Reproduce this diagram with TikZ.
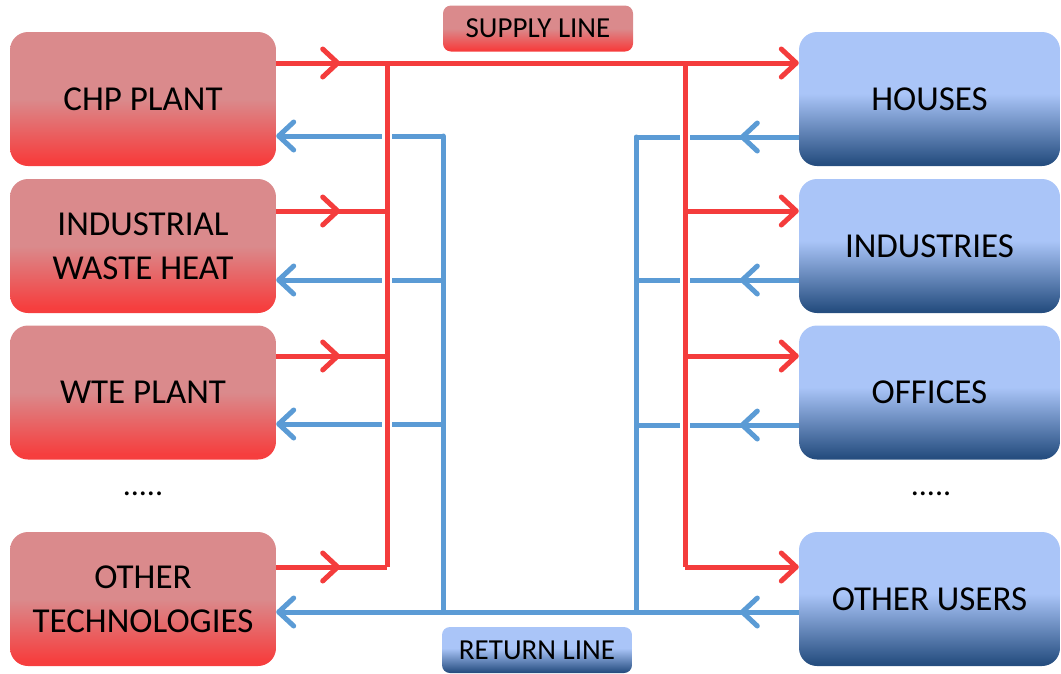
\documentclass[tikz,border=0pt]{standalone}
\usepackage{fontspec}
\setmainfont{Carlito}
\usetikzlibrary{arrows.meta}

\definecolor{redtop}{RGB}{218,138,140}
\definecolor{redbot}{RGB}{246,62,62}
\definecolor{bluetop}{RGB}{170,197,248}
\definecolor{bluebot}{RGB}{38,78,128}
\definecolor{supplyred}{RGB}{244,60,60}
\definecolor{returnblue}{RGB}{91,155,213}

% vertical fills: the node occupies 25bp (bottom) to 75bp (top)
\pgfdeclareverticalshading{redfill}{100bp}{color(0bp)=(redbot); color(27bp)=(redbot); color(50bp)=(redtop); color(100bp)=(redtop)}
\pgfdeclareverticalshading{bluefill}{100bp}{color(0bp)=(bluebot); color(26bp)=(bluebot); color(52bp)=(bluetop); color(100bp)=(bluetop)}

\tikzset{
  source/.style={shading=redfill, rounded corners=18pt, minimum width=266pt, minimum height=134pt,
    align=center, font=\fontsize{35}{44}\selectfont, inner sep=0pt},
  user/.style={shading=bluefill, rounded corners=18pt, minimum width=261pt, minimum height=134pt,
    align=center, font=\fontsize{35}{44}\selectfont, inner sep=0pt},
  tag/.style={rounded corners=8pt, minimum width=190pt, minimum height=46pt, inner sep=0pt,
    font=\fontsize{29}{32}\selectfont},
  barb/.tip={Straight Barb[length=15pt,width=28pt,round]},
  sup/.style={draw=supplyred, line width=5pt},
  ret/.style={draw=returnblue, line width=5pt},
  gapped/.style={preaction={draw=white, line width=10pt}},
  dots/.style={font=\fontsize{32}{34}\selectfont}
}

\begin{document}
\begin{tikzpicture}[x=1pt, y=-1pt]
  \useasboundingbox (0,0) rectangle (1061,673);

  % heat sources
  \node[source] (chp) at (143,99) {CHP PLANT};
  \node[source] (iwh) at (143,246) {INDUSTRIAL\\WASTE HEAT};
  \node[source] (wte) at (143,392.5) {WTE PLANT};
  \node[dots]   (ldots) at (143,494) {.....};
  \node[source] (oth) at (143,599) {OTHER\\TECHNOLOGIES};

  % heat users
  \node[user] (hou) at (929.5,99) {HOUSES};
  \node[user] (ind) at (929.5,246) {INDUSTRIES};
  \node[user] (off) at (929.5,392.5) {OFFICES};
  \node[dots] (rdots) at (931,494) {.....};
  \node[user] (usr) at (929.5,599) {OTHER USERS};

  % line labels
  \node[tag, shading=redfill] (supply) at (538,28.5) {SUPPLY LINE};
  \node[tag, shading=bluefill] (return) at (537,650) {RETURN LINE};

  % bus coordinates
  \coordinate (lr1) at (387,63);  \coordinate (lr2) at (387,211);
  \coordinate (lr3) at (387,356); \coordinate (lr4) at (387,567);
  \coordinate (lb1) at (443,136); \coordinate (lb2) at (443,280);
  \coordinate (lb3) at (443,424); \coordinate (lb4) at (443,612);
  \coordinate (rr1) at (685,63);  \coordinate (rr2) at (685,211);
  \coordinate (rr3) at (685,356); \coordinate (rr4) at (685,567);
  \coordinate (rb1) at (636,137); \coordinate (rb2) at (636,280);
  \coordinate (rb3) at (636,425); \coordinate (rb4) at (636,612);

  % return network (drawn first, red buses cross over it)
  \draw[ret, line cap=round] (lb1) -- (lb4);
  \draw[ret, line cap=round] (rb1) -- (rb4);
  \draw[ret, -barb] (lb1) -- (chp.east |- lb1);
  \draw[ret, -barb] (lb2) -- (iwh.east |- lb2);
  \draw[ret, -barb] (lb3) -- (wte.east |- lb3);
  \draw[ret] (usr.west |- rb4) -- (lb4);
  \draw[ret, -barb] (lb4) -- (oth.east |- lb4);
  \draw[ret] (hou.west |- rb1) -- (rb1);
  \draw[ret] (ind.west |- rb2) -- (rb2);
  \draw[ret] (off.west |- rb3) -- (rb3);
  \draw[ret, -barb] (hou.west |- rb1) -- ++(-59,0);
  \draw[ret, -barb] (ind.west |- rb2) -- ++(-59,0);
  \draw[ret, -barb] (off.west |- rb3) -- ++(-59,0);
  \draw[ret, -barb] (usr.west |- rb4) -- ++(-59,0);

  % supply network
  \draw[sup, gapped] (lr1) -- (lr4);
  \draw[sup, gapped] (rr1) -- (rr4);
  \draw[sup, -barb] (chp.east |- lr1) -- (hou.west |- rr1);
  \draw[sup, -barb] (chp.east |- lr1) -- ++(64,0);
  \draw[sup] (iwh.east |- lr2) -- (lr2);
  \draw[sup] (wte.east |- lr3) -- (lr3);
  \draw[sup] (oth.east |- lr4) -- (lr4);
  \draw[sup, -barb] (iwh.east |- lr2) -- ++(64,0);
  \draw[sup, -barb] (wte.east |- lr3) -- ++(64,0);
  \draw[sup, -barb] (oth.east |- lr4) -- ++(64,0);
  \draw[sup, -barb] (rr2) -- (ind.west |- rr2);
  \draw[sup, -barb] (rr3) -- (off.west |- rr3);
  \draw[sup, -barb] (rr4) -- (usr.west |- rr4);
\end{tikzpicture}
\end{document}
